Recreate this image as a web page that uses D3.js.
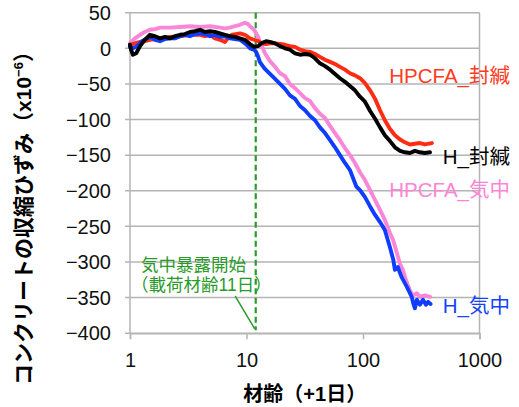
<!DOCTYPE html>
<html>
<head>
<meta charset="utf-8">
<script src="https://cdn.jsdelivr.net/npm/d3@7"></script>
<style>
  body { margin: 0; background: #fff; }
  text { font-family: "Liberation Sans", Arial, "Noto Sans CJK JP", sans-serif; }
</style>
</head>
<body>
<div id="chart"></div>
<script>
// ---- data (age + 1 day, shrinkage strain x10^-6) ----
const xTickValues = [1, 10, 100, 1000];
const yTickValues = [50, 0, -50, -100, -150, -200, -250, -300, -350, -400];

const seriesNames = ['HPCFA_気中', 'HPCFA_封緘', 'H_気中', 'H_封緘'];

const hpcfaAir = [
  [1.0, 7], [1.1, 14], [1.22, 19], [1.34, 23], [1.48, 26], [1.64, 27], [1.81, 29],
  [2.2, 29], [2.69, 30], [3.27, 31], [4.0, 30], [4.86, 31], [5.92, 29], [6.54, 28],
  [7.21, 29], [7.96, 31], [8.79, 33], [9.7, 36], [10.3, 34], [10.7, 31], [11.1, 29],
  [11.6, 26], [12.1, 21], [12.6, 16], [13.0, 9], [13.8, 0], [14.4, -7], [15.9, -18],
  [17.6, -26], [19.4, -35], [21.4, -39], [23.6, -50], [26.1, -56], [28.8, -63],
  [31.8, -70], [35.1, -74], [38.7, -84], [42.7, -92], [47.2, -98], [52.1, -109],
  [57.5, -119], [63.4, -129], [70, -140], [77.3, -150], [85.3, -161], [94.2, -174],
  [104, -185], [115, -199], [127, -213], [140, -227], [154, -241], [170, -259],
  [181, -269], [192, -283], [208, -303], [220, -311], [233, -325], [253, -340],
  [267, -347], [290, -344], [308, -349], [340, -347], [376, -349]
];

const hpcfaSealed = [
  [1.0, 5], [1.1, 7], [1.22, 9], [1.34, 10], [1.48, 12], [1.81, 14], [2.2, 16],
  [2.69, 17], [3.27, 19], [4.0, 19], [4.4, 17], [4.86, 19], [5.36, 14], [5.92, 12],
  [6.54, 9], [6.9, 14], [7.5, 19], [8.1, 20], [8.79, 21], [9.7, 19], [10.7, 14],
  [11.6, 12], [12.6, 10], [13.5, 7], [14.7, 6], [15.9, 7], [17.6, 7], [19.4, 6],
  [21.4, 5], [23.6, 3], [26.1, 2], [28.8, -2], [31.8, -4], [35.1, -5], [38.7, -8],
  [42.7, -12], [47.2, -16], [52.1, -19], [57.5, -22], [63.4, -26], [70, -30],
  [77.3, -35], [85.3, -38], [94.2, -42], [104, -49], [115, -59], [127, -71],
  [140, -87], [154, -101], [170, -113], [188, -122], [208, -128], [229, -132],
  [253, -135], [279, -134], [308, -133], [340, -135], [390, -133]
];

const hAir = [
  [1.0, 2], [1.06, 0], [1.15, 3], [1.27, 10], [1.4, 14], [1.51, 16], [1.64, 12],
  [1.81, 10], [2.0, 13], [2.2, 14], [2.43, 14], [2.69, 17], [2.96, 19], [3.27, 17],
  [3.61, 20], [4.0, 21], [4.4, 20], [4.86, 17], [5.36, 19], [5.92, 16], [6.54, 17],
  [7.21, 14], [7.96, 13], [8.79, 12], [9.7, 7], [10.3, 3], [10.7, 0], [11.1, -1],
  [11.6, -2], [12.1, -5], [12.6, -12], [13.0, -19], [13.8, -25], [14.4, -29],
  [15.9, -36], [17.6, -43], [19.4, -50], [21.4, -57], [23.6, -66], [26.1, -71],
  [28.8, -81], [31.8, -87], [35.1, -95], [38.7, -101], [42.7, -111], [47.2, -119],
  [52.1, -129], [57.5, -139], [63.4, -150], [70, -161], [77.3, -171], [87.6, -194],
  [94.2, -199], [104, -209], [115, -222], [127, -234], [140, -244], [154, -255],
  [170, -279], [182, -297], [188, -311], [199, -307], [214, -321], [238, -335],
  [262, -349], [270, -358], [279, -365], [290, -353], [308, -360], [327, -353],
  [347, -360], [362, -356], [380, -359]
];

const hSealed = [
  [1.0, 5], [1.02, -2], [1.06, -9], [1.13, -7], [1.22, 3], [1.34, 12], [1.48, 19],
  [1.64, 17], [1.81, 14], [2.0, 16], [2.2, 14], [2.43, 17], [2.69, 19], [2.96, 20],
  [3.27, 23], [3.61, 24], [4.0, 26], [4.4, 23], [4.86, 24], [5.36, 23], [5.92, 21],
  [6.54, 19], [7.21, 17], [7.96, 16], [8.79, 14], [9.7, 12], [10.7, 6], [11.6, 2],
  [12.6, 3], [13.4, 7], [14.7, 10], [15.9, 9], [17.6, 7], [19.4, 3], [21.4, 0],
  [23.6, -2], [26.1, -7], [28.8, -9], [31.8, -8], [35.1, -9], [38.7, -14],
  [42.7, -21], [47.2, -25], [52.1, -30], [57.5, -36], [63.4, -42], [70, -47],
  [77.3, -53], [85.3, -59], [94.2, -68], [104, -75], [115, -88], [127, -99],
  [140, -111], [154, -122], [170, -130], [188, -139], [208, -144], [229, -146],
  [253, -147], [279, -144], [308, -146], [340, -147], [376, -146]
];

// label anchor values (strain level where each series name sits)
const labelLevels = [-199, -39, -361, -152];
const exposureAge = 12;

// ---- layout ----
const width = 519, height = 407;
const plot = {left: 130, right: 479.5, top: 12.7, bottom: 333.2};
const colors = ['#f986d6', '#ff2b12', '#0f3cff', '#000000'];
const labelColors = ['#ff84d4', '#ff3a1e', '#1442ff', '#000000'];
const green = '#2a9a2a';
const gridColor = '#b4b4b4';

const svg = d3.select('#chart')
  .append('svg')
  .attr('width', width)
  .attr('height', height);

svg.append('rect')
  .attr('width', width)
  .attr('height', height)
  .attr('fill', '#fff');

const x = d3.scaleLog()
  .domain([1, 1000])
  .range([plot.left, plot.right]);

const y = d3.scaleLinear()
  .domain([-400, 50])
  .range([plot.bottom, plot.top]);

// horizontal gridlines
svg.append('g')
  .selectAll('line')
  .data(yTickValues)
  .enter()
  .append('line')
  .attr('x1', plot.left - 5)
  .attr('x2', plot.right)
  .attr('y1', d => y(d))
  .attr('y2', d => y(d))
  .attr('stroke', gridColor)
  .attr('stroke-width', 1.5);

// left axis + right border
svg.append('g')
  .selectAll('line')
  .data([1, 1000])
  .enter()
  .append('line')
  .attr('x1', d => x(d))
  .attr('x2', d => x(d))
  .attr('y1', plot.top)
  .attr('y2', plot.bottom)
  .attr('stroke', gridColor)
  .attr('stroke-width', 1.5);

// x axis (ticks go down)
const xAxis = d3.axisBottom(x)
  .tickValues(xTickValues)
  .tickFormat(d3.format('d'))
  .tickSize(6)
  .tickPadding(14);

const gx = svg.append('g')
  .attr('transform', `translate(0,${plot.bottom})`)
  .call(xAxis);
gx.select('.domain').attr('stroke', gridColor).attr('stroke-width', 1.5);
gx.selectAll('.tick line').attr('stroke', gridColor).attr('stroke-width', 1.5);
gx.selectAll('.tick text')
  .attr('fill', '#111')
  .style('font-size', '20px');

// y axis labels
svg.append('g')
  .selectAll('text')
  .data(yTickValues)
  .enter()
  .append('text')
  .attr('x', 111)
  .attr('y', d => y(d))
  .attr('dy', '0.36em')
  .attr('text-anchor', 'end')
  .attr('fill', '#111')
  .style('font-size', '20px')
  .text(d => d3.format('d')(d));

// exposure start marker
svg.append('line')
  .attr('x1', x(exposureAge))
  .attr('x2', x(exposureAge))
  .attr('y1', plot.top)
  .attr('y2', plot.bottom - 3)
  .attr('stroke', green)
  .attr('stroke-width', 2.2)
  .attr('stroke-dasharray', '6,3.5');

svg.append('line')
  .attr('x1', x(8))
  .attr('y1', y(-348))
  .attr('x2', x(exposureAge) - 1)
  .attr('y2', y(-394))
  .attr('stroke', green)
  .attr('stroke-width', 1.5);

const note = svg.append('text')
  .attr('fill', green)
  .style('font-size', '17.5px');
note.append('tspan').attr('x', 141).attr('y', 271).text('気中暴露開始');
note.append('tspan').attr('x', 131).attr('y', 291).text('（載荷材齢11日）');

// curves
const line = d3.line()
  .x(d => x(d[0]))
  .y(d => y(d[1]));

const allSeries = [hpcfaAir, hpcfaSealed, hAir, hSealed];

svg.append('g')
  .selectAll('path')
  .data(allSeries)
  .enter()
  .append('path')
  .attr('d', line)
  .attr('fill', 'none')
  .attr('stroke', (d, i) => colors[i])
  .attr('stroke-width', 3.9)
  .attr('stroke-linejoin', 'round')
  .attr('stroke-linecap', 'round');

// series labels
svg.append('g')
  .selectAll('text')
  .data(seriesNames)
  .enter()
  .append('text')
  .attr('x', 510)
  .attr('y', (d, i) => y(labelLevels[i]))
  .attr('dy', '0.36em')
  .attr('text-anchor', 'end')
  .attr('fill', (d, i) => labelColors[i])
  .style('font-size', '20.5px')
  .text(d => d);

// axis titles
svg.append('text')
  .attr('x', (plot.left + plot.right) / 2)
  .attr('y', 401)
  .attr('text-anchor', 'middle')
  .style('font-size', '20px')
  .style('font-weight', 'bold')
  .text('材齢（+1日）');

const yTitle = svg.append('text')
  .attr('transform', 'translate(31,213) rotate(-90)')
  .attr('text-anchor', 'middle')
  .style('font-size', '21px')
  .style('font-weight', 'bold');
yTitle.append('tspan').text('コンクリートの収縮ひずみ（x10');
yTitle.append('tspan').attr('dy', -8).style('font-size', '13px').text('−6');
yTitle.append('tspan').attr('dy', 8).text('）');
</script>
</body>
</html>
